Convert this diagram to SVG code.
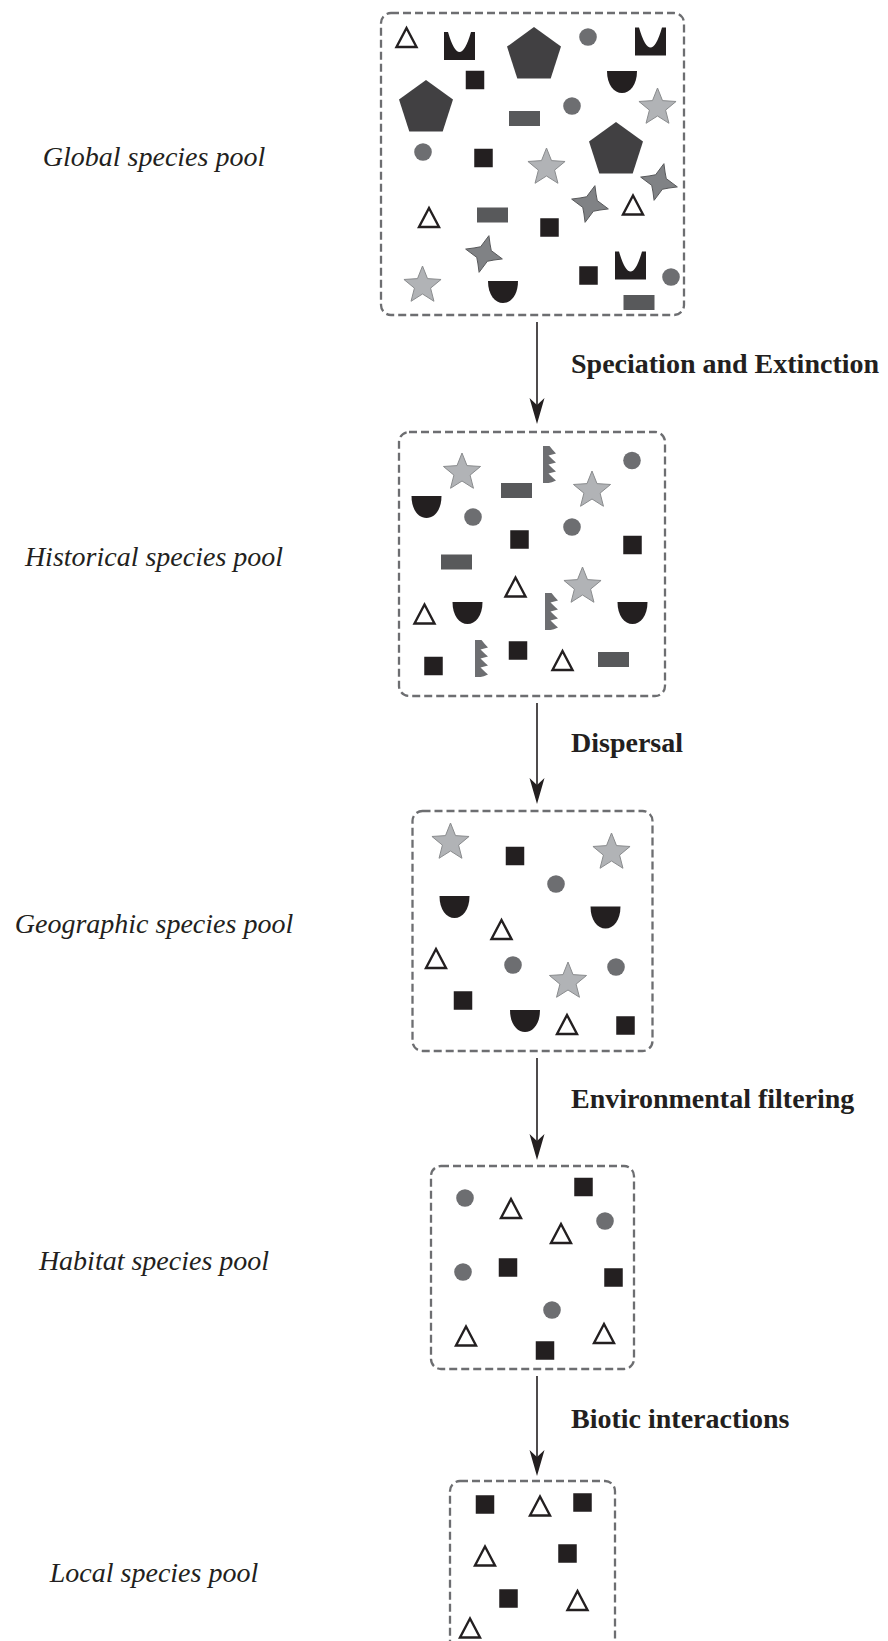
<svg xmlns="http://www.w3.org/2000/svg" xmlns:xlink="http://www.w3.org/1999/xlink" width="888" height="1641" viewBox="0 0 888 1641">
<style>
.box{fill:none;stroke:#6d6e71;stroke-width:2.3;stroke-dasharray:8 4}
.lbl{font-family:"Liberation Serif","Times New Roman",serif;font-style:italic;font-size:28px;fill:#231f20;text-anchor:middle}
.proc{font-family:"Liberation Serif","Times New Roman",serif;font-weight:bold;font-size:28px;fill:#231f20}
.con{stroke:#231f20;stroke-width:1.6;fill:none}
</style>
<defs>
<marker id="ah" markerUnits="userSpaceOnUse" markerWidth="40" markerHeight="40" refX="0" refY="0" orient="auto" overflow="visible">
<path d="M6,0 L-20,-7.5 L-13,0 L-20,7.5 Z" fill="#231f20"/>
</marker>
<polygon id="tri" points="0,-9 10,10 -10,10" fill="#fff" stroke="#231f20" stroke-width="2.4"/>
<rect id="sq" x="-9.25" y="-9.25" width="18.5" height="18.5" fill="#231f20"/>
<rect id="rc" x="-15.5" y="-7.5" width="31" height="15" fill="#58595b"/>
<circle id="ci" r="8.8" fill="#6d6e71"/>
<polygon id="pent" points="0,-28.4 27,-8.78 16.7,22.98 -16.7,22.98 -27,-8.78" fill="#414042"/>
<polygon id="star" points="0,-19.5 5,-6.88 18.55,-6.03 8.08,2.63 11.46,15.78 0,8.5 -11.46,15.78 -8.08,2.63 -18.55,-6.03 -5,-6.88" fill="#b1b3b6" stroke="#8a8c8e" stroke-width="1"/>
<path id="pin" d="M4.92,-18.35 Q6,-9 7.25,-3.38 L18.35,4.92 Q9,6 3.38,7.25 L-4.92,18.35 Q-6,9 -7.25,3.38 L-18.35,-4.92 Q-9,-6 -3.38,-7.25 Z" fill="#808285" stroke="#58595b" stroke-width="1"/>
<path id="cup" d="M-15.5,-14 L-11.5,-14 Q0,26 11.5,-14 L15.5,-14 L15.5,14 L-15.5,14 Z" fill="#231f20"/>
<path id="bowl" d="M-15,-11 H15 C15,3 8,11 0,11 C-8,11 -15,3 -15,-11 Z" fill="#231f20"/>
<path id="comb" d="M-6.5,-18.5 L0,-18.5 Q3.5,-14 6.5,-11 L-1,-9 Q3.5,-4.5 6.5,-2 L-1,0 Q3.5,4.5 6.5,7 L-1,9 Q3.5,13.5 6.5,16 Q2,18 -1,18.5 L-6.5,18.5 Z" fill="#6d6e71"/>
</defs>

<g id="connectors">
<line class="con" x1="537" y1="322" x2="537" y2="418" marker-end="url(#ah)"/>
<line class="con" x1="537" y1="703" x2="537" y2="798" marker-end="url(#ah)"/>
<line class="con" x1="537" y1="1058" x2="537" y2="1154" marker-end="url(#ah)"/>
<line class="con" x1="537" y1="1376" x2="537" y2="1470" marker-end="url(#ah)"/>
<text class="proc" x="571" y="373">Speciation and Extinction</text>
<text class="proc" x="571" y="752">Dispersal</text>
<text class="proc" x="571" y="1108">Environmental filtering</text>
<text class="proc" x="571" y="1428">Biotic interactions</text>
</g>

<g id="global-pool">
<text class="lbl" x="154" y="166">Global species pool</text>
<rect class="box" x="381" y="13" width="303" height="302" rx="10"/>
<use xlink:href="#tri" x="406.5" y="37"/>
<use xlink:href="#tri" x="633" y="204.5"/>
<use xlink:href="#tri" x="429" y="217"/>
<use xlink:href="#cup" x="459.5" y="46"/>
<use xlink:href="#cup" x="650.5" y="41.5"/>
<use xlink:href="#cup" x="630.5" y="265.5"/>
<use xlink:href="#pent" x="534" y="55.4"/>
<use xlink:href="#pent" x="426" y="108.4"/>
<use xlink:href="#pent" x="616" y="150.4"/>
<use xlink:href="#ci" x="588" y="37"/>
<use xlink:href="#ci" x="572" y="106"/>
<use xlink:href="#ci" x="423" y="152"/>
<use xlink:href="#ci" x="671" y="277"/>
<use xlink:href="#sq" x="475" y="80"/>
<use xlink:href="#sq" x="483.5" y="158"/>
<use xlink:href="#sq" x="549.5" y="227.5"/>
<use xlink:href="#sq" x="588.5" y="275.5"/>
<use xlink:href="#bowl" x="622" y="82"/>
<use xlink:href="#bowl" x="503" y="292"/>
<use xlink:href="#rc" x="524.5" y="118.5"/>
<use xlink:href="#rc" x="492.5" y="215"/>
<use xlink:href="#rc" x="639" y="302.5"/>
<use xlink:href="#star" x="657.5" y="107.5"/>
<use xlink:href="#star" x="546.5" y="167.5"/>
<use xlink:href="#star" x="422.5" y="285.5"/>
<use xlink:href="#pin" x="659" y="182"/>
<use xlink:href="#pin" x="590" y="204"/>
<use xlink:href="#pin" x="484" y="254"/>
</g>

<g id="historical-pool">
<text class="lbl" x="154" y="566">Historical species pool</text>
<rect class="box" x="399" y="432" width="266" height="264" rx="10"/>
<use xlink:href="#star" x="462" y="472.5"/>
<use xlink:href="#star" x="592" y="490.5"/>
<use xlink:href="#star" x="582.5" y="586.5"/>
<use xlink:href="#comb" x="549.5" y="464.5"/>
<use xlink:href="#comb" x="551.5" y="611.5"/>
<use xlink:href="#comb" x="481.5" y="658.5"/>
<use xlink:href="#ci" x="632" y="460.5"/>
<use xlink:href="#ci" x="473" y="517"/>
<use xlink:href="#ci" x="572" y="527"/>
<use xlink:href="#rc" x="516.5" y="490.5"/>
<use xlink:href="#rc" x="456.5" y="562"/>
<use xlink:href="#rc" x="613.5" y="659.5"/>
<use xlink:href="#bowl" x="426.5" y="507"/>
<use xlink:href="#bowl" x="467.5" y="613"/>
<use xlink:href="#bowl" x="632.5" y="613"/>
<use xlink:href="#sq" x="519.5" y="539.5"/>
<use xlink:href="#sq" x="632.5" y="545"/>
<use xlink:href="#sq" x="433.5" y="666"/>
<use xlink:href="#sq" x="518" y="650.5"/>
<use xlink:href="#tri" x="515.5" y="586.5"/>
<use xlink:href="#tri" x="424.5" y="613.5"/>
<use xlink:href="#tri" x="562.5" y="660"/>
</g>

<g id="geographic-pool">
<text class="lbl" x="154" y="933">Geographic species pool</text>
<rect class="box" x="412.5" y="811" width="240" height="240" rx="10"/>
<use xlink:href="#star" x="450.5" y="842.5"/>
<use xlink:href="#star" x="611.5" y="852.5"/>
<use xlink:href="#star" x="568" y="981.5"/>
<use xlink:href="#sq" x="515" y="856"/>
<use xlink:href="#sq" x="463" y="1000.5"/>
<use xlink:href="#sq" x="625.5" y="1025.5"/>
<use xlink:href="#ci" x="556" y="884"/>
<use xlink:href="#ci" x="513" y="965"/>
<use xlink:href="#ci" x="616" y="967"/>
<use xlink:href="#bowl" x="454.5" y="907"/>
<use xlink:href="#bowl" x="605.5" y="917.5"/>
<use xlink:href="#bowl" x="525" y="1021"/>
<use xlink:href="#tri" x="501.5" y="929"/>
<use xlink:href="#tri" x="436" y="958"/>
<use xlink:href="#tri" x="567" y="1024"/>
</g>

<g id="habitat-pool">
<text class="lbl" x="154" y="1270">Habitat species pool</text>
<rect class="box" x="431" y="1166" width="203" height="203" rx="10"/>
<use xlink:href="#ci" x="465" y="1198"/>
<use xlink:href="#ci" x="605" y="1221"/>
<use xlink:href="#ci" x="463" y="1272"/>
<use xlink:href="#ci" x="552" y="1310"/>
<use xlink:href="#tri" x="511" y="1208"/>
<use xlink:href="#tri" x="561" y="1233"/>
<use xlink:href="#tri" x="466" y="1335.5"/>
<use xlink:href="#tri" x="604" y="1333"/>
<use xlink:href="#sq" x="583.5" y="1187"/>
<use xlink:href="#sq" x="508" y="1267.5"/>
<use xlink:href="#sq" x="613.5" y="1277.5"/>
<use xlink:href="#sq" x="545" y="1350.5"/>
</g>

<g id="local-pool">
<text class="lbl" x="154" y="1582">Local species pool</text>
<rect class="box" x="450" y="1481" width="165" height="200" rx="10"/>
<use xlink:href="#sq" x="485" y="1504.5"/>
<use xlink:href="#sq" x="582.5" y="1502.5"/>
<use xlink:href="#sq" x="567.5" y="1553.5"/>
<use xlink:href="#sq" x="508.5" y="1598.5"/>
<use xlink:href="#tri" x="540" y="1505.5"/>
<use xlink:href="#tri" x="485" y="1555.5"/>
<use xlink:href="#tri" x="577.5" y="1600"/>
<use xlink:href="#tri" x="470" y="1627.5"/>
</g>
</svg>
